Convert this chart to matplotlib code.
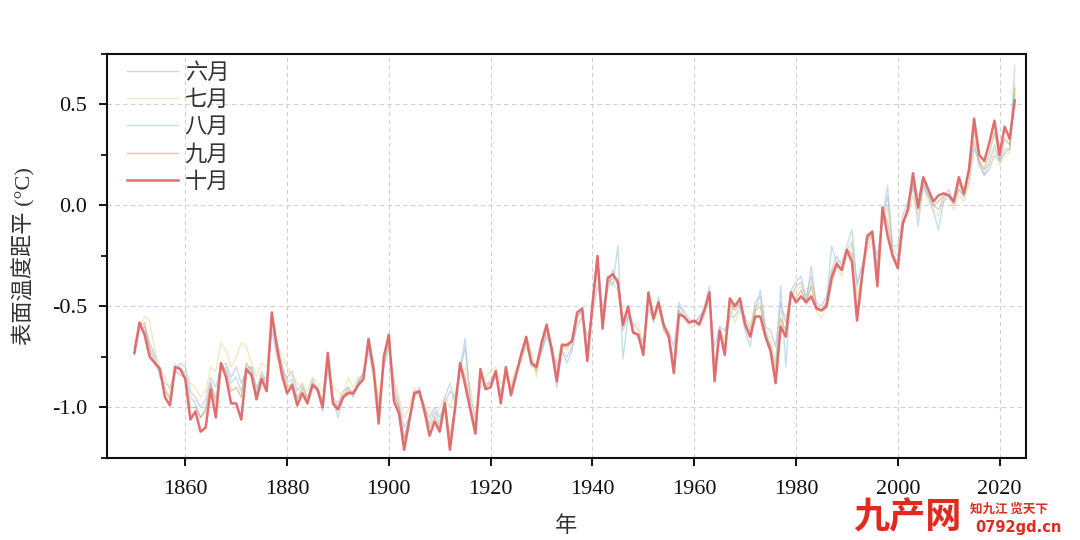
import matplotlib
matplotlib.use("Agg")
import matplotlib.pyplot as plt
from matplotlib.ticker import MultipleLocator
import numpy as np

years = list(range(1850, 2024))

jun = [-0.70,-0.62,-0.60,-0.68,-0.74,-0.85,-0.88,-0.90,-0.83,-0.78,
       -0.80,-0.92,-0.95,-1.00,-0.96,-0.85,-0.90,-0.80,-0.78,-0.85,
       -0.80,-0.88,-0.82,-0.80,-0.90,-0.86,-0.85,-0.62,-0.75,-0.82,
       -0.85,-0.82,-0.92,-0.88,-0.95,-0.88,-0.93,-0.98,-0.82,-0.95,
       -0.98,-0.92,-0.90,-0.95,-0.88,-0.82,-0.72,-0.85,-0.98,-0.80,
       -0.70,-0.88,-0.98,-1.10,-1.05,-0.95,-0.92,-1.00,-1.05,-1.00,
       -1.05,-0.98,-0.92,-0.95,-0.82,-0.70,-0.95,-1.05,-0.90,-0.88,
       -0.88,-0.85,-0.92,-0.85,-0.90,-0.82,-0.75,-0.70,-0.76,-0.80,
       -0.72,-0.65,-0.70,-0.80,-0.72,-0.75,-0.70,-0.60,-0.55,-0.65,
       -0.55,-0.40,-0.50,-0.42,-0.32,-0.40,-0.62,-0.55,-0.58,-0.62,
       -0.68,-0.52,-0.55,-0.50,-0.60,-0.62,-0.70,-0.50,-0.52,-0.56,
       -0.58,-0.55,-0.52,-0.48,-0.70,-0.60,-0.62,-0.55,-0.55,-0.50,
       -0.55,-0.62,-0.48,-0.45,-0.60,-0.62,-0.70,-0.48,-0.58,-0.45,
       -0.40,-0.38,-0.45,-0.35,-0.48,-0.50,-0.45,-0.32,-0.25,-0.30,
       -0.22,-0.18,-0.38,-0.30,-0.20,-0.15,-0.25,-0.08,0.05,-0.20,
       -0.20,-0.05,0.02,0.08,0.05,0.10,0.05,0.00,-0.02,0.04,
       0.08,0.02,0.08,0.05,0.12,0.28,0.22,0.15,0.18,0.25,
       0.22,0.26,0.28,0.55]

jul = [-0.68,-0.60,-0.55,-0.57,-0.72,-0.80,-0.85,-0.92,-0.78,-0.82,
       -0.82,-0.88,-0.90,-0.95,-0.92,-0.80,-0.82,-0.68,-0.72,-0.80,
       -0.75,-0.68,-0.70,-0.78,-0.85,-0.78,-0.80,-0.58,-0.68,-0.75,
       -0.80,-0.85,-0.88,-0.90,-0.92,-0.85,-0.88,-0.92,-0.80,-0.90,
       -0.92,-0.95,-0.85,-0.90,-0.85,-0.84,-0.70,-0.78,-0.95,-0.78,
       -0.72,-0.85,-0.95,-1.05,-1.00,-0.90,-0.95,-0.98,-1.02,-1.05,
       -1.00,-0.95,-1.00,-0.92,-0.85,-0.80,-0.90,-1.05,-0.88,-0.85,
       -0.82,-0.80,-0.88,-0.85,-0.88,-0.80,-0.78,-0.68,-0.72,-0.85,
       -0.70,-0.62,-0.72,-0.78,-0.68,-0.72,-0.66,-0.58,-0.55,-0.70,
       -0.52,-0.32,-0.55,-0.40,-0.38,-0.42,-0.58,-0.52,-0.60,-0.58,
       -0.70,-0.50,-0.58,-0.52,-0.62,-0.66,-0.75,-0.52,-0.56,-0.60,
       -0.60,-0.58,-0.55,-0.45,-0.78,-0.62,-0.66,-0.50,-0.58,-0.52,
       -0.56,-0.60,-0.50,-0.48,-0.62,-0.66,-0.78,-0.52,-0.55,-0.46,
       -0.42,-0.40,-0.50,-0.38,-0.52,-0.56,-0.50,-0.40,-0.30,-0.35,
       -0.25,-0.20,-0.45,-0.33,-0.22,-0.18,-0.30,-0.10,0.00,-0.22,
       -0.22,-0.08,-0.05,0.05,-0.05,0.08,0.02,-0.02,-0.05,0.02,
       0.04,-0.02,0.05,0.02,0.10,0.30,0.20,0.18,0.20,0.28,
       0.20,0.25,0.26,0.60]

aug = [-0.72,-0.60,-0.62,-0.70,-0.76,-0.82,-0.90,-0.95,-0.80,-0.80,
       -0.84,-0.95,-0.98,-1.05,-1.00,-0.88,-0.95,-0.82,-0.80,-0.88,
       -0.85,-0.92,-0.80,-0.80,-0.92,-0.82,-0.88,-0.58,-0.72,-0.78,
       -0.88,-0.86,-0.95,-0.92,-0.98,-0.86,-0.92,-1.02,-0.78,-0.96,
       -1.05,-0.96,-0.90,-0.94,-0.86,-0.84,-0.70,-0.82,-1.02,-0.80,
       -0.68,-0.92,-1.00,-1.15,-1.05,-0.94,-0.90,-1.00,-1.08,-1.02,
       -1.08,-0.95,-0.88,-0.98,-0.80,-0.66,-0.98,-1.10,-0.85,-0.90,
       -0.86,-0.82,-0.95,-0.82,-0.92,-0.84,-0.72,-0.68,-0.80,-0.78,
       -0.74,-0.62,-0.74,-0.90,-0.72,-0.78,-0.72,-0.56,-0.52,-0.72,
       -0.50,-0.28,-0.55,-0.35,-0.40,-0.20,-0.76,-0.55,-0.62,-0.66,
       -0.72,-0.46,-0.58,-0.45,-0.62,-0.64,-0.80,-0.48,-0.54,-0.58,
       -0.58,-0.56,-0.50,-0.40,-0.82,-0.60,-0.70,-0.55,-0.48,-0.50,
       -0.62,-0.70,-0.52,-0.42,-0.62,-0.70,-0.80,-0.40,-0.80,-0.42,
       -0.38,-0.35,-0.48,-0.30,-0.50,-0.52,-0.48,-0.20,-0.28,-0.28,
       -0.20,-0.12,-0.40,-0.30,-0.18,-0.12,-0.30,-0.06,0.10,-0.22,
       -0.25,-0.10,0.00,0.10,-0.10,0.10,0.04,-0.03,-0.12,0.02,
       0.06,0.00,0.08,0.04,0.16,0.32,0.20,0.15,0.22,0.30,
       0.22,0.28,0.28,0.69]

sep = [-0.74,-0.60,-0.58,-0.72,-0.78,-0.80,-0.92,-0.96,-0.82,-0.84,
       -0.85,-1.00,-1.00,-1.05,-1.02,-0.88,-0.98,-0.78,-0.82,-0.92,
       -0.90,-0.95,-0.78,-0.82,-0.94,-0.84,-0.90,-0.55,-0.68,-0.80,
       -0.90,-0.88,-0.96,-0.90,-0.96,-0.88,-0.90,-0.98,-0.75,-0.96,
       -1.00,-0.94,-0.92,-0.92,-0.88,-0.84,-0.68,-0.82,-1.04,-0.76,
       -0.66,-0.94,-1.00,-1.16,-1.06,-0.92,-0.93,-1.00,-1.10,-1.05,
       -1.10,-0.97,-1.15,-0.98,-0.80,-0.84,-1.00,-1.10,-0.84,-0.90,
       -0.88,-0.82,-0.96,-0.82,-0.92,-0.84,-0.74,-0.66,-0.78,-0.82,
       -0.70,-0.60,-0.72,-0.84,-0.70,-0.70,-0.68,-0.55,-0.52,-0.75,
       -0.50,-0.27,-0.58,-0.38,-0.36,-0.36,-0.60,-0.52,-0.62,-0.64,
       -0.72,-0.45,-0.56,-0.48,-0.60,-0.64,-0.80,-0.52,-0.55,-0.58,
       -0.57,-0.58,-0.52,-0.44,-0.84,-0.62,-0.72,-0.48,-0.52,-0.48,
       -0.58,-0.64,-0.52,-0.50,-0.64,-0.70,-0.84,-0.56,-0.62,-0.44,
       -0.46,-0.42,-0.48,-0.40,-0.50,-0.52,-0.48,-0.34,-0.28,-0.32,
       -0.22,-0.24,-0.52,-0.34,-0.17,-0.14,-0.36,-0.03,-0.08,-0.24,
       -0.28,-0.08,-0.02,0.12,-0.02,0.12,0.06,0.00,0.02,0.05,
       0.05,0.01,0.11,0.05,0.16,0.38,0.22,0.18,0.26,0.36,
       0.23,0.33,0.30,0.58]

oct_ = [-0.73,-0.58,-0.64,-0.75,-0.78,-0.81,-0.95,-0.99,-0.80,-0.81,
        -0.86,-1.06,-1.02,-1.12,-1.10,-0.91,-1.05,-0.78,-0.85,-0.98,
        -0.98,-1.06,-0.81,-0.84,-0.96,-0.86,-0.92,-0.53,-0.70,-0.84,
        -0.93,-0.89,-0.99,-0.93,-0.98,-0.89,-0.91,-1.00,-0.73,-0.98,
        -1.01,-0.95,-0.93,-0.93,-0.89,-0.86,-0.66,-0.81,-1.08,-0.75,
        -0.64,-0.97,-1.03,-1.21,-1.07,-0.93,-0.92,-1.02,-1.14,-1.07,
        -1.12,-0.98,-1.21,-1.01,-0.78,-0.89,-1.01,-1.13,-0.81,-0.91,
        -0.90,-0.82,-0.98,-0.80,-0.94,-0.84,-0.74,-0.65,-0.78,-0.80,
        -0.68,-0.59,-0.71,-0.87,-0.69,-0.69,-0.67,-0.53,-0.51,-0.77,
        -0.49,-0.25,-0.61,-0.36,-0.34,-0.38,-0.59,-0.50,-0.63,-0.64,
        -0.74,-0.43,-0.56,-0.48,-0.59,-0.65,-0.83,-0.54,-0.55,-0.58,
        -0.57,-0.59,-0.52,-0.43,-0.87,-0.62,-0.74,-0.46,-0.50,-0.46,
        -0.59,-0.65,-0.55,-0.55,-0.65,-0.72,-0.88,-0.60,-0.65,-0.43,
        -0.48,-0.45,-0.48,-0.45,-0.51,-0.52,-0.50,-0.36,-0.29,-0.32,
        -0.22,-0.28,-0.57,-0.35,-0.15,-0.13,-0.40,-0.01,-0.15,-0.25,
        -0.31,-0.09,-0.02,0.16,-0.01,0.14,0.08,0.02,0.05,0.06,
        0.05,0.02,0.14,0.06,0.18,0.43,0.25,0.22,0.31,0.42,
        0.25,0.39,0.33,0.52]

labels = ["六月", "七月", "八月", "九月", "十月"]
xticks = [1860, 1880, 1900, 1920, 1940, 1960, 1980, 2000, 2020]
yticks = [-1.0, -0.5, 0.0, 0.5]
ytick_labels = ["-1.0", "-0.5", "0.0", "0.5"]

FAM = ["Liberation Serif", "Noto Sans CJK SC", "DejaVu Sans"]
plt.rcParams["font.family"] = FAM

fig = plt.figure(figsize=(10.8, 5.4), dpi=100)
ax = fig.add_axes([0.099, 0.152, 0.851, 0.748])

colors = ["#b9acd8", "#f0d48a", "#92c6e0", "#c8a062", "#e0676a"]
series = [jun, jul, aug, sep, oct_]
for i, (s, lab, c) in enumerate(zip(series, labels, colors)):
    if i < 4:
        ax.plot(years, s, color=c, lw=1.0, alpha=0.55, label=lab, zorder=2)
    else:
        ax.plot(years, s, color=c, lw=1.8, alpha=0.95, label=lab, zorder=3)

ax.set_xlim(1844.6, 2025.2)
ax.set_ylim(-1.25, 0.75)
ax.set_xticks(xticks)
ax.set_yticks(yticks)
ax.set_yticklabels(ytick_labels)
ax.yaxis.set_minor_locator(MultipleLocator(0.25))
ax.grid(True, which="major", linestyle=(0, (4, 3)), color="#d0d0d0", lw=0.8)
ax.set_axisbelow(True)
for sp in ax.spines.values():
    sp.set_linewidth(1.5)
    sp.set_color("#111111")
ax.tick_params(axis="both", which="major", direction="out", length=6, width=1.4,
               labelsize=16, colors="#111111")
ax.tick_params(axis="x", which="major", pad=10)
ax.tick_params(axis="y", which="major", pad=8)
ax.tick_params(axis="y", which="minor", direction="out", length=4, width=1.2)
ax.tick_params(top=False, right=False)

ax.set_xlabel("年", fontsize=16, labelpad=12, color="#333333")
ax.set_ylabel("表面温度距平 (°C)", fontsize=16, labelpad=12, color="#333333")

leg = ax.legend(loc="upper left", frameon=False, fontsize=16, handlelength=2.3,
                labelspacing=0.3, borderaxespad=0.0, handletextpad=0.3,
                bbox_to_anchor=(0.012, 1.0))
for t in leg.get_texts():
    t.set_color("#333333")

# watermark
fig.text(0.79, 0.022, "九产网", fontsize=26, color="#e02a20", style="italic",
         fontweight="bold", family=["Noto Sans CJK SC"])
fig.text(0.898, 0.05, "知九江 览天下", fontsize=9, color="#e02a20",
         fontweight="bold", family=["Noto Sans CJK SC"])
fig.text(0.903, 0.014, "0792gd.cn", fontsize=10.5, color="#e02a20",
         fontweight="bold", family=["DejaVu Sans"])

fig.savefig("out.png", dpi=100)
